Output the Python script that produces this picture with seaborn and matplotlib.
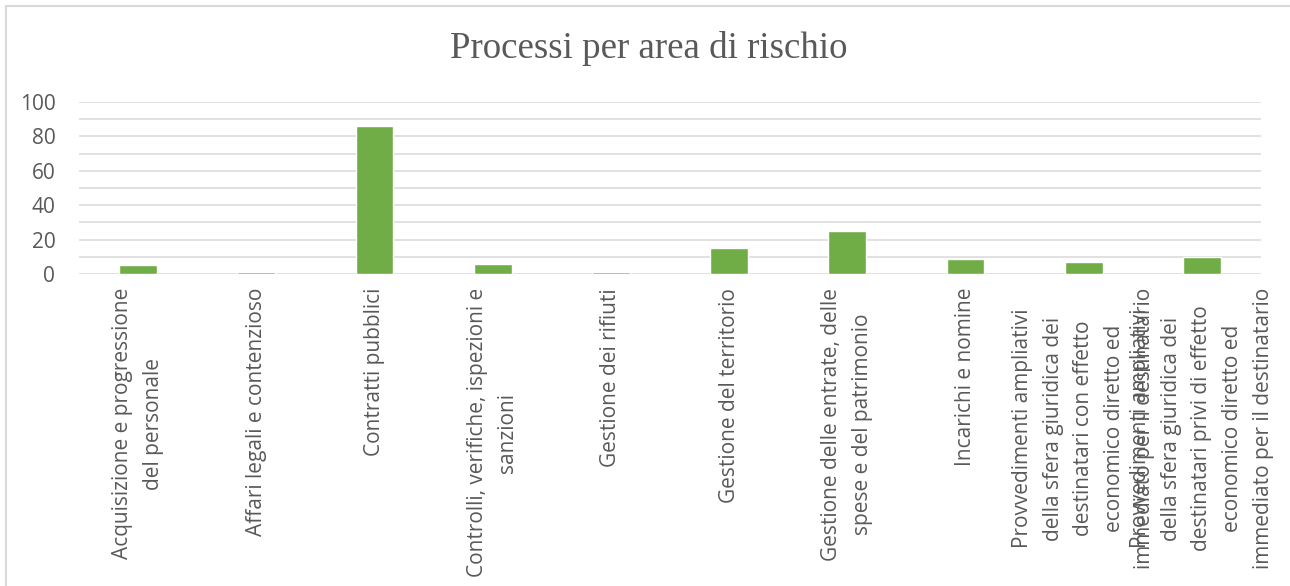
import matplotlib
matplotlib.use("Agg")
import matplotlib.pyplot as plt
from matplotlib.patches import Rectangle
import seaborn as sns
import pandas as pd

# Risk areas and number of processes in each
categories = [
    "Acquisizione e progressione\ndel personale",
    "Affari legali e contenzioso",
    "Contratti pubblici",
    "Controlli, verifiche, ispezioni e\nsanzioni",
    "Gestione dei rifiuti",
    "Gestione del territorio",
    "Gestione delle entrate, delle\nspese e del patrimonio",
    "Incarichi e nomine",
    "Provvedimenti ampliativi\ndella sfera giuridica dei\ndestinatari con effetto\neconomico diretto ed\nimmediato per il destinatario",
    "Provvedimenti ampliativi\ndella sfera giuridica dei\ndestinatari privi di effetto\neconomico diretto ed\nimmediato per il destinatario",
]
processi = [5, 1, 86, 6, 1, 15, 25, 9, 7, 10]
y_ticks = [0, 20, 40, 60, 80, 100]
title = "Processi per area di rischio"

df = pd.DataFrame({"area": categories, "processi": processi})

sns.set_theme(style="white")
plt.rcParams["font.family"] = ["Open Sans", "DejaVu Sans"]

text_gray = "#595959"
grid_gray = "#d9d9d9"
bar_green = "#70ad47"

fig = plt.figure(figsize=(12.9, 5.86), dpi=100)
ax = fig.add_axes([0.0612, 0.5324, 0.9163, 0.2936])

sns.barplot(data=df, x="area", y="processi", color=bar_green,
            width=0.32, saturation=1, ax=ax, zorder=3)

ax.set_ylim(0, 100)
ax.set_yticks(y_ticks)
ax.set_yticks(range(10, 100, 20), minor=True)
ax.grid(axis="y", which="both", color=grid_gray, linewidth=1.1, zorder=0)
ax.set_axisbelow(True)
for s in ax.spines.values():
    s.set_visible(False)

ax.set_xlabel("")
ax.set_ylabel("")
ax.tick_params(axis="both", which="both", length=0)
ax.tick_params(axis="y", pad=17, labelsize=15, labelcolor=text_gray)
ax.tick_params(axis="x", pad=10, labelsize=15, labelcolor=text_gray)
for lab in ax.get_xticklabels():
    lab.set_rotation(90)
    lab.set_ha("center")
    lab.set_va("top")
    lab.set_multialignment("center")
    lab.set_linespacing(1.6)

fig.text(0.503, 1 - 58 / 586, title, family="Liberation Serif",
         fontsize=26.6, color=text_gray, ha="center", va="baseline")

# light chart-area frame
fig.patches.append(Rectangle((6 / 1290, -0.1), 1.2, 1 - 6 / 586 + 0.1,
                             transform=fig.transFigure, fill=False,
                             edgecolor=grid_gray, linewidth=1.5))

fig.savefig("out.png", dpi=100)
